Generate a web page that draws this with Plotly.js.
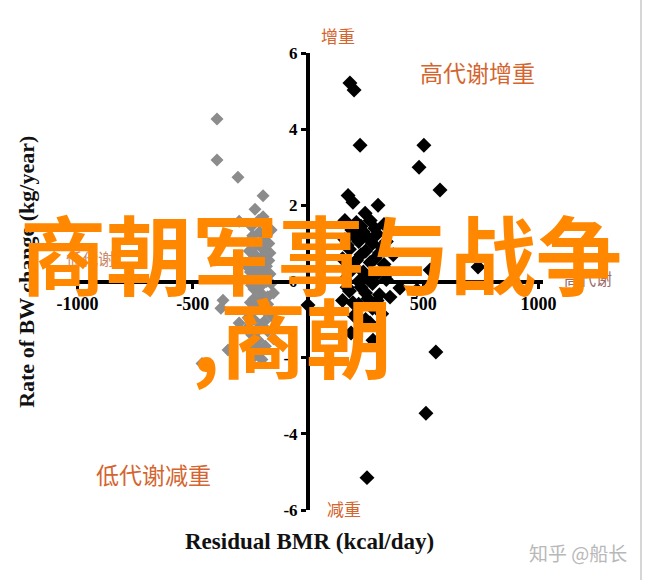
<!DOCTYPE html>
<html>
<head>
<meta charset="utf-8">
<script src="https://cdn.plot.ly/plotly-3.0.1.min.js"></script>
<style>
  html, body { margin: 0; padding: 0; background: #ffffff; }
  #chart { width: 646px; height: 580px; position: relative; }
  #edge { position: absolute; left: 640px; top: 0; width: 2px; height: 580px; background: #d6d6d6; }
</style>
</head>
<body>
<div style="position:relative;width:646px;height:580px;">
  <div id="chart"></div>
  <div id="edge"></div>
</div>
<script>
// Low-metabolism group (negative residual BMR), grey diamonds
const greyX = [-395, -395, -304, -195, -299, -369, -378, -299, -347, -460, -221,
  -230, -195, -245, -210, -180, -255, -225, -195, -165, -240, -210, -180, -250, -220,
  -190, -160, -235, -205, -175, -250, -220, -190, -160, -235, -205, -175, -245, -215,
  -185, -230, -200, -260, -265, -170, -200,
  -215, -185, -240, -160, -230, -200, -170, -255, -225, -195, -165, -245, -210, -180,
  -150, -235, -205, -175, -260, -190, -220, -150, -240, -210];
const greyY = [4.27, 3.19, 2.74, 2.25, 1.58, -0.49, -0.70, -1.09, -1.80, -2.15, -1.72,
  1.90, 1.70, 1.45, 1.30, 1.20, 1.05, 0.95, 0.85, 0.75, 0.60, 0.50, 0.40, 0.25, 0.15,
  0.05, -0.05, -0.20, -0.30, -0.40, -0.55, -0.65, -0.75, -0.90, -1.00, -1.15, -1.30, -1.40, -1.55,
  -1.70, -1.95, -2.05, -0.95, 0.40, 1.00, 1.05,
  1.60, 1.50, 1.20, 1.35, 0.70, 0.65, 0.55, 0.80, 0.35, 0.25, 0.20, -0.10, -0.15, 0.00,
  -0.30, -0.45, -0.50, -0.60, -1.20, -1.05, -1.30, -1.50, -1.75, -1.85];

// High-metabolism group (positive residual BMR), black diamonds
const blackX = [182, 200, 226, 503, 482, 573, 555, 512, 256, 174, 195, 304, 248, 738, 530,
  399, 473, 356, 269, 187, 282, 195, 0,
  160, 210, 270, 330, 190, 240, 300, 160, 220, 280, 340, 180, 250, 310, 370, 150, 210,
  270, 330, 190, 240, 300, 160, 220, 280, 340, 180, 250, 310, 150, 220, 280, 200, 250, 320,
  230, 290, 200, 260, 320, 170, 230, 290, 350, 200, 260, 230, 300, 170, 260];
const blackY = [5.21, 5.03, 3.58, 3.58, 3.00, 2.40, -1.85, -3.46, -5.15, 2.26, 2.08, 2.00, 1.79, 0.38, 0.30,
  -0.17, -0.22, -0.41, -1.09, -1.35, -1.54, -0.56, -0.62,
  1.60, 1.55, 1.60, 1.50, 1.35, 1.30, 1.25, 1.10, 1.05, 1.00, 1.05, 0.85, 0.80, 0.75, 0.70, 0.60, 0.55,
  0.50, 0.45, 0.30, 0.25, 0.20, 0.05, 0.00, -0.05, 0.05, -0.25, -0.30, -0.35, -0.50, -0.60, -0.70, -0.90, -1.00, -0.85,
  1.45, 1.40, 1.20, 1.15, 0.90, 0.95, 0.70, 0.60, 0.25, 0.40, 0.10, -0.15, -0.50, -0.15, -0.45];

const xTicks = [-1000, -500, 500, 1000];
const yTicks = [-6, -4, -2, 0, 2, 4, 6];

const xTitle = 'Residual BMR (kcal/day)';
const yTitle = 'Rate of BW change (kg/year)';
const bigTitle1 = '商朝军事与战争';
const bigTitle2 = ',商朝';

const serif = 'Liberation Serif, Times New Roman, serif';
const cjk = 'Noto Sans CJK SC, Noto Sans, sans-serif';
const rust = '#d4652f';
const orange = '#ff8800';
const bold = s => '<b>' + s + '</b>';

const traces = [
  { type: 'scatter', mode: 'markers', x: greyX, y: greyY, name: 'low',
    marker: { symbol: 'diamond', size: 10, color: '#8c8c8c' }, hoverinfo: 'skip' },
  { type: 'scatter', mode: 'markers', x: blackX, y: blackY, name: 'high',
    marker: { symbol: 'diamond', size: 11.5, color: '#000000' }, hoverinfo: 'skip' }
];

const layout = {
  width: 646, height: 580,
  margin: { l: 73, r: 103, t: 53, b: 70 },
  paper_bgcolor: '#ffffff', plot_bgcolor: '#ffffff',
  showlegend: false,
  xaxis: {
    range: [-1020, 1020], anchor: 'free', position: 0.5,
    showline: true, linewidth: 4, linecolor: '#000',
    showgrid: false, zeroline: false,
    tickmode: 'array', tickvals: xTicks, ticktext: xTicks.map(v => bold(String(v))),
    ticks: 'outside', ticklen: 5, tickwidth: 3, tickcolor: '#000',
    tickfont: { family: serif, size: 18, color: '#000' }
  },
  yaxis: {
    range: [-6, 6], anchor: 'free', position: 0.5,
    showline: true, linewidth: 4, linecolor: '#000',
    showgrid: false, zeroline: false,
    tickmode: 'array', tickvals: yTicks, ticktext: yTicks.map(v => bold(String(v))),
    ticks: 'outside', ticklen: 5, tickwidth: 3, tickcolor: '#000',
    tickfont: { family: serif, size: 17, color: '#000' }
  },
  annotations: [
    { text: bold(xTitle), xref: 'paper', yref: 'paper', x: 0.504, y: -0.068, showarrow: false,
      xanchor: 'center', yanchor: 'middle', font: { family: serif, size: 23, color: '#111' } },
    { text: bold(yTitle), xref: 'paper', yref: 'paper', x: -0.098, y: 0.521, showarrow: false, textangle: -90,
      xanchor: 'center', yanchor: 'middle', font: { family: serif, size: 22, color: '#111' } },
    { text: '低代谢', xref: 'paper', yref: 'paper', x: 0.036, y: 0.551, showarrow: false,
      xanchor: 'center', yanchor: 'middle', font: { family: cjk, size: 16, color: '#c98a6a' } },
    { text: '高代谢', xref: 'paper', yref: 'paper', x: 1.096, y: 0.508, showarrow: false,
      xanchor: 'center', yanchor: 'middle', font: { family: cjk, size: 16, color: '#9a6a6a' } },
    { text: '增重', xref: 'paper', yref: 'paper', x: 0.564, y: 1.039, showarrow: false,
      xanchor: 'center', yanchor: 'middle', font: { family: cjk, size: 17, color: rust } },
    { text: '高代谢增重', xref: 'paper', yref: 'paper', x: 0.860, y: 0.958, showarrow: false,
      xanchor: 'center', yanchor: 'middle', font: { family: cjk, size: 23, color: rust } },
    { text: '低代谢减重', xref: 'paper', yref: 'paper', x: 0.172, y: 0.079, showarrow: false,
      xanchor: 'center', yanchor: 'middle', font: { family: cjk, size: 23, color: rust } },
    { text: '减重', xref: 'paper', yref: 'paper', x: 0.577, y: 0.004, showarrow: false,
      xanchor: 'center', yanchor: 'middle', font: { family: cjk, size: 17, color: rust } },
    { text: '知乎 @船长', xref: 'paper', yref: 'paper', x: 1.074, y: -0.092, showarrow: false,
      xanchor: 'center', yanchor: 'middle', font: { family: cjk, size: 19, color: '#b8b8b8' } },
    { text: bold(bigTitle1), xref: 'paper', yref: 'paper', x: 0.528, y: 0.5646, showarrow: false,
      xanchor: 'center', yanchor: 'middle', font: { family: cjk, size: 86, color: orange } },
    { text: bold(bigTitle2), xref: 'paper', yref: 'paper', x: 0.466, y: 0.383, showarrow: false,
      xanchor: 'center', yanchor: 'middle', font: { family: cjk, size: 86, color: orange } }
  ]
};

Plotly.newPlot('chart', traces, layout, { displayModeBar: false, staticPlot: true });
</script>
</body>
</html>
